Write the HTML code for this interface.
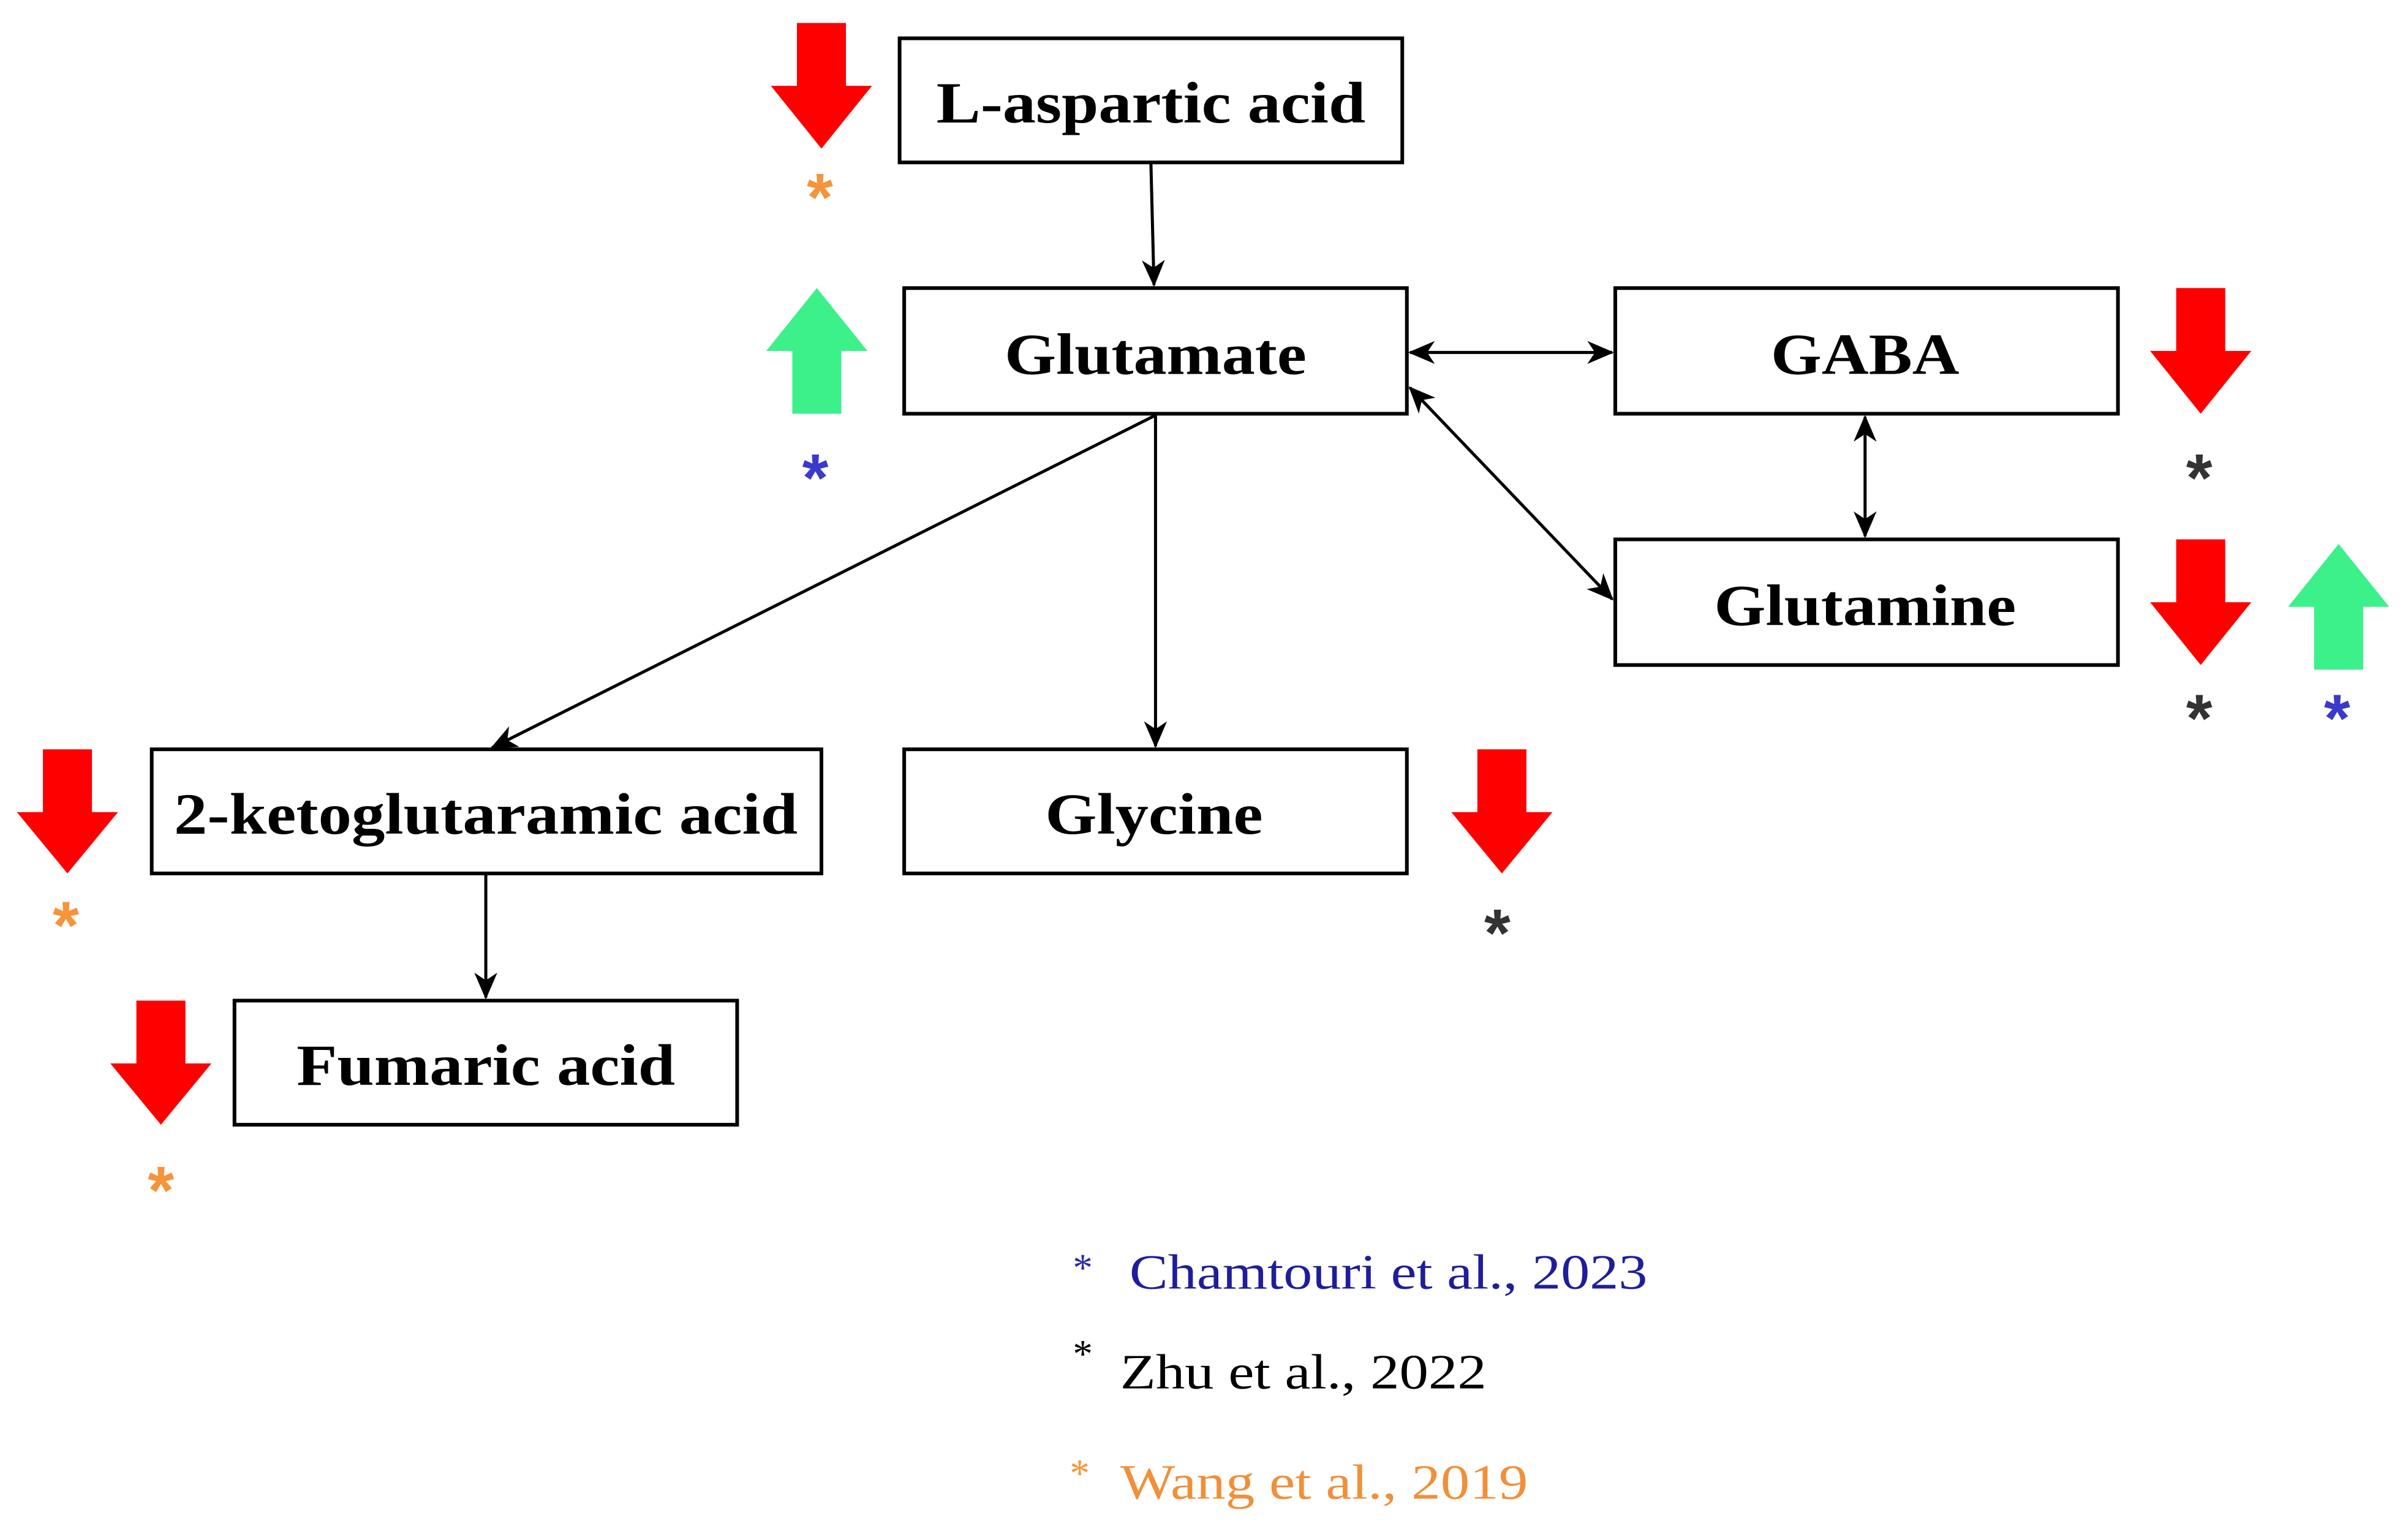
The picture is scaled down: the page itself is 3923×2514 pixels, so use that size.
<!DOCTYPE html>
<html><head><meta charset="utf-8"><style>html,body{margin:0;padding:0;background:#fff}svg{display:block}</style></head>
<body>
<svg width="3923" height="2514" viewBox="0 0 1568 1005" preserveAspectRatio="none" xmlns="http://www.w3.org/2000/svg">
<defs>
<marker id="ah" viewBox="0 0 14 12" refX="13" refY="6" markerWidth="18" markerHeight="15" markerUnits="userSpaceOnUse" orient="auto-start-reverse">
<path d="M0,0 L14,6 L0,12 L4,6 Z" fill="#000"/>
</marker>
</defs>
<rect width="1568" height="1005" fill="#fff"/>
<g fill="none" stroke="#000" stroke-width="2.4">
<rect x="587" y="25" width="328" height="81"/>
<rect x="590" y="188" width="328" height="82"/>
<rect x="1054" y="188" width="328" height="82"/>
<rect x="1054" y="352" width="328" height="82"/>
<rect x="99" y="489" width="437" height="81"/>
<rect x="590" y="489" width="328" height="81"/>
<rect x="153" y="653" width="328" height="81"/>
</g>
<g stroke="#000" stroke-width="2" fill="none">
<line x1="751" y1="107" x2="753" y2="186" marker-end="url(#ah)"/>
<line x1="920" y1="230" x2="1052" y2="230" marker-start="url(#ah)" marker-end="url(#ah)"/>
<line x1="1217" y1="272" x2="1217" y2="350" marker-start="url(#ah)" marker-end="url(#ah)"/>
<line x1="920" y1="253" x2="1052" y2="391" marker-start="url(#ah)" marker-end="url(#ah)"/>
<line x1="754" y1="271" x2="754" y2="487" marker-end="url(#ah)"/>
<line x1="754" y1="271" x2="321" y2="488" marker-end="url(#ah)"/>
<line x1="317" y1="571" x2="317" y2="651" marker-end="url(#ah)"/>
</g>
<g font-family="'Liberation Serif',serif" font-weight="bold" font-size="38" text-anchor="middle" fill="#000">
<text x="751" y="80" textLength="280" lengthAdjust="spacingAndGlyphs">L-aspartic acid</text>
<text x="754" y="244" textLength="197" lengthAdjust="spacingAndGlyphs">Glutamate</text>
<text x="1217" y="244" textLength="123" lengthAdjust="spacingAndGlyphs">GABA</text>
<text x="1217" y="408" textLength="197" lengthAdjust="spacingAndGlyphs">Glutamine</text>
<text x="317" y="544" textLength="407" lengthAdjust="spacingAndGlyphs">2-ketoglutaramic acid</text>
<text x="753" y="544" textLength="142" lengthAdjust="spacingAndGlyphs">Glycine</text>
<text x="317" y="708" textLength="247" lengthAdjust="spacingAndGlyphs">Fumaric acid</text>
</g>
<g fill="#ff0000">
<polygon points="520,15 552,15 552,56 569,56 536,97 503,56 520,56"/>
<polygon points="1420,188 1452,188 1452,229 1469,229 1436,270 1403,229 1420,229"/>
<polygon points="1420,352 1452,352 1452,393 1469,393 1436,434 1403,393 1420,393"/>
<polygon points="28,489 60,489 60,530 77,530 44,570 11,530 28,530"/>
<polygon points="964,489 996,489 996,530 1013,530 980,570 947,530 964,530"/>
<polygon points="89,653 121,653 121,694 138,694 105,734 72,694 89,694"/>
</g>
<g fill="#3cf08a">
<polygon points="517,270 549,270 549,229 566,229 533,188 500,229 517,229"/>
<polygon points="1510,437 1542,437 1542,396 1559,396 1526,355 1493,396 1510,396"/>
</g>
<g font-family="'Liberation Sans',sans-serif" font-weight="bold" font-size="44" text-anchor="middle">
<text x="535" y="144" fill="#f5943a">*</text>
<text x="532" y="327" fill="#3a3acc">*</text>
<text x="1435" y="327" fill="#333">*</text>
<text x="1435" y="484" fill="#333">*</text>
<text x="1525" y="484" fill="#3a3acc">*</text>
<text x="43" y="619" fill="#f5943a">*</text>
<text x="977" y="624" fill="#333">*</text>
<text x="105" y="792" fill="#f5943a">*</text>
</g>
<g font-family="'Liberation Serif',serif" font-size="32">
<text x="700" y="836" fill="#2a2aa8" font-size="26">*</text>
<text x="737" y="841" fill="#1e1e9a" textLength="338" lengthAdjust="spacingAndGlyphs">Chamtouri et al., 2023</text>
<text x="700" y="892" fill="#000" font-size="26">*</text>
<text x="731" y="906" fill="#000" textLength="239" lengthAdjust="spacingAndGlyphs">Zhu et al., 2022</text>
<text x="698" y="970" fill="#f5943a" font-size="26">*</text>
<text x="731" y="978" fill="#f0903a" textLength="266" lengthAdjust="spacingAndGlyphs">Wang et al., 2019</text>
</g>
</svg>
</body></html>
